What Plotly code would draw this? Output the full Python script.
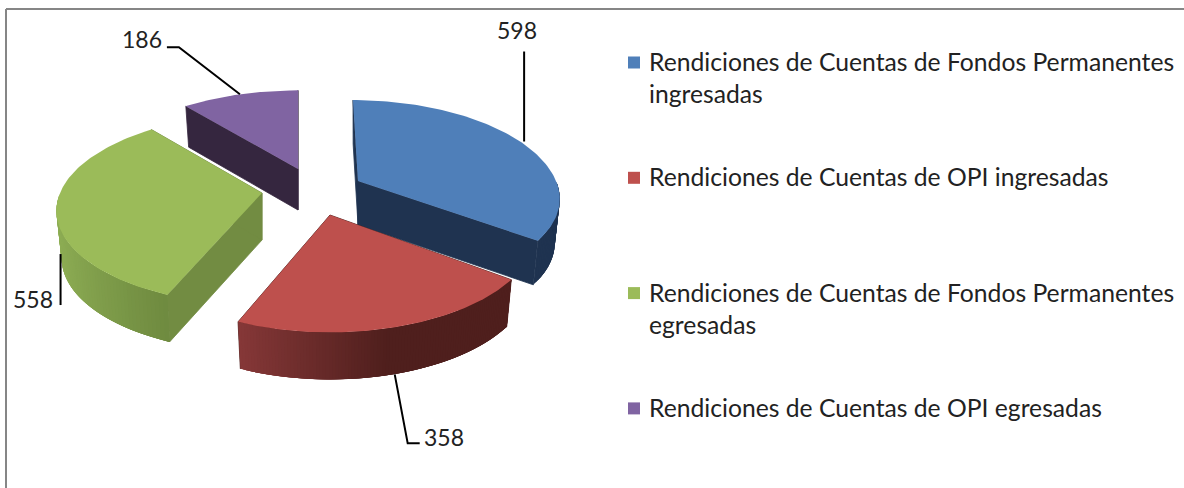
import numpy as np
import plotly.graph_objects as go

# --- data -------------------------------------------------------------
categories = [
    "Rendiciones de Cuentas de Fondos Permanentes<br>ingresadas",
    "Rendiciones de Cuentas de OPI ingresadas",
    "Rendiciones de Cuentas de Fondos Permanentes<br>egresadas",
    "Rendiciones de Cuentas de OPI egresadas",
]
values = [598, 358, 558, 186]

# --- style ------------------------------------------------------------
top_colors = ["#4f7fb9", "#be504d", "#9bbb59", "#8064a2"]
cut_colors = ["#1f3350", "#4f1f1d", "#728c42", "#35263f"]
# wall colour goes from wall_a to wall_b as u (left-right position) grows over wall_u
wall_a = ["#1f3350", "#8a3a3a", "#90b056", "#35263f"]
wall_b = ["#1f3350", "#4f1f1d", "#6f8b40", "#35263f"]
wall_u = [(0, 1), (-0.42, 0.25), (-1, -0.38), (0, 1)]
apex = [(358, 181), (330, 215), (262, 193), (298, 169)]
radius = [198, 203, 202, 200]
squash_front = [0.455, 0.48, 0.46, 0.46]
squash_back = [0.478, 0.48, 0.46, 0.46]
shear = [5, 0, -3.5, 0]
depth = [44, 47, 47, 41]
persp = 0.17
shrink = 0.025
label_offset = [(-3, -112), (49, 63), (-24, 45), (-98, -55)]
FONT = "Lato, Carlito, Calibri, sans-serif"


def hex2rgb(c):
    return np.array([int(c[i:i + 2], 16) for i in (1, 3, 5)], float)


def project(i, theta):
    u, v = np.sin(theta), -np.cos(theta)
    s = 1 / (1 - persp * v)
    k = np.where(v < 0, squash_back[i], squash_front[i])
    return apex[i][0] + radius[i] * u * s + shear[i] * v, apex[i][1] + radius[i] * k * v * s


def poly(xs, ys, color, width=0.0):
    return go.Scatter(x=list(map(float, xs)), y=list(map(float, ys)), mode="lines", fill="toself",
                      fillcolor=color, line=dict(color=color, width=width),
                      hoverinfo="skip", showlegend=False)


fig = go.Figure()
fractions = np.array(values) / sum(values)
edges = np.concatenate([[0], np.cumsum(fractions)]) * 2 * np.pi

for i in (3, 0, 2, 1):
    t0, t1 = edges[i], edges[i + 1]
    ax, ay = apex[i]
    d = depth[i]
    grid = np.linspace(t0, t1, 100)
    px, py = project(i, grid)
    bx = ax + (px - ax) * (1 - shrink)  # the lower rim sits a little further from the viewer
    # cut faces, with a thin stroke so the wall drawn next joins them without a seam
    for k in (0, -1):
        fig.add_trace(poly([ax, px[k], bx[k], ax, ax], [ay, py[k], py[k] + d, ay + d, ay], cut_colors[i], 0.8))
    # outer wall, front-facing part only; each band overlaps the next to avoid seams
    front = np.where(-np.cos(grid) >= 0)[0]
    if len(front) > 1:
        a, b = hex2rgb(wall_a[i]), hex2rgb(wall_b[i])
        lo, hi = wall_u[i]
        rising = np.sin(grid[front[0]]) < np.sin(grid[front[-1]])
        order = front[:-1] if rising else front[:-1][::-1]
        for j in order:
            f = np.clip((np.sin(grid[j]) - lo) / (hi - lo), 0, 1)
            col = "rgb(%d,%d,%d)" % tuple(a + (b - a) * f)
            if rising:
                idx = np.arange(j, min(j + 4, front[-1]) + 1)
            else:
                idx = np.arange(max(j - 3, front[0]), j + 2)
            fig.add_trace(poly(np.r_[px[idx], bx[idx][::-1], px[idx[0]]],
                               np.r_[py[idx], py[idx][::-1] + d, py[idx[0]]], col))
    # top face
    fig.add_trace(poly(np.r_[ax, px, ax], np.r_[ay, py, ay], top_colors[i]))

# leader lines and value labels, anchored on each slice's mid angle
bends = [
    lambda x, y: ([x + 4, x + 4], [y, y - 90]),
    lambda x, y: ([x, x + 13, x + 25], [y, y + 69, y + 69]),
    lambda x, y: ([x + 4, x + 4], [y, y + 51]),
    lambda x, y: ([x, x - 61, x - 73], [y, y - 47, y - 47]),
]
for i, val in enumerate(values):
    mid = (edges[i] + edges[i + 1]) / 2
    mx, my = project(i, mid)
    if -np.cos(mid) > 0:
        my = my + depth[i]
    lx, ly = bends[i](float(mx), float(my))
    fig.add_trace(go.Scatter(x=lx, y=ly, mode="lines", line=dict(color="black", width=2),
                             hoverinfo="skip", showlegend=False))
    fig.add_annotation(x=float(mx) + label_offset[i][0], y=float(my) + label_offset[i][1], text=str(val),
                       showarrow=False, font=dict(family=FONT, size=23, color="#222222"),
                       xanchor="center", yanchor="middle")

# legend, laid out at regular intervals
for i, name in enumerate(categories):
    y0 = 62.5 + 115.3 * i
    fig.add_trace(go.Scatter(x=[634], y=[y0], mode="markers",
                             marker=dict(symbol="square", size=12, color=top_colors[i], line=dict(width=0)),
                             hoverinfo="skip", showlegend=False))
    for n, line in enumerate(name.split("<br>")):
        fig.add_annotation(x=647, y=y0 - 1 + 32 * n, text=line, showarrow=False, xanchor="left", yanchor="middle",
                           font=dict(family=FONT, size=24.7, color="#222222"))

# chart frame (top and left edges only)
fig.add_shape(type="line", x0=6, x1=1184, y0=9, y1=9, line=dict(color="#868686", width=2))
fig.add_shape(type="line", x0=6, x1=6, y0=9, y1=488, line=dict(color="#868686", width=2))

fig.update_xaxes(range=[0, 1184], visible=False, fixedrange=True)
fig.update_yaxes(range=[488, 0], visible=False, fixedrange=True)
fig.update_layout(width=1184, height=488, margin=dict(l=0, r=0, t=0, b=0),
                  paper_bgcolor="white", plot_bgcolor="white", showlegend=False)
fig.write_html("out.html", config={"displayModeBar": False},
               post_script="document.body.style.margin='0';document.body.style.overflow='hidden';")
